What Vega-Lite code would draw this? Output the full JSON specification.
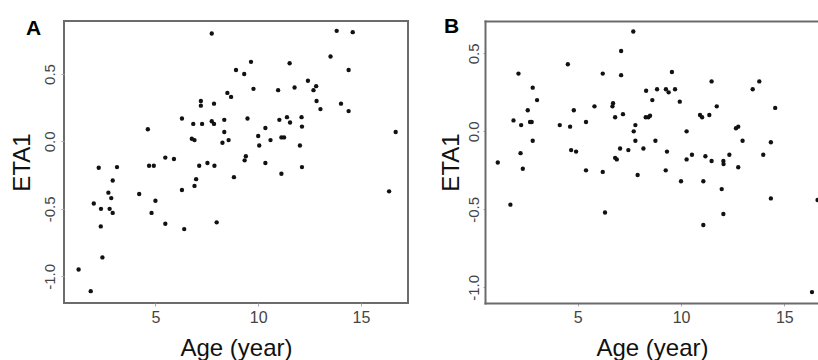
{
  "$schema": "https://vega.github.io/schema/vega-lite/v6.json",
  "padding": {"left": 9, "top": 16, "right": 0, "bottom": 0},
  "background": "white",
  "spacing": 77,
  "bounds": "flush",
  "config": {
    "font": "Liberation Sans",
    "axis": {"grid": false, "labelColor": "#444444", "titleColor": "#111111", "tickColor": "#aaaaaa", "tickWidth": 1, "titleFontWeight": "normal", "labelFont": "Liberation Sans", "titleFont": "Liberation Sans"}
  },
  "datasets": {
    "a": [
      {"age": 7.74, "eta": 0.80}, {"age": 13.82, "eta": 0.82}, {"age": 14.6, "eta": 0.81}, {"age": 13.52, "eta": 0.63},
      {"age": 9.65, "eta": 0.59}, {"age": 11.53, "eta": 0.58}, {"age": 14.40, "eta": 0.53}, {"age": 8.92, "eta": 0.53},
      {"age": 9.32, "eta": 0.50}, {"age": 12.42, "eta": 0.45}, {"age": 12.82, "eta": 0.41}, {"age": 12.69, "eta": 0.38},
      {"age": 9.77, "eta": 0.39}, {"age": 11.77, "eta": 0.40}, {"age": 10.97, "eta": 0.38}, {"age": 8.5, "eta": 0.36},
      {"age": 8.68, "eta": 0.33}, {"age": 12.84, "eta": 0.30}, {"age": 14.03, "eta": 0.28}, {"age": 7.21, "eta": 0.30},
      {"age": 7.21, "eta": 0.265}, {"age": 7.85, "eta": 0.28}, {"age": 13.03, "eta": 0.24}, {"age": 14.40, "eta": 0.225},
      {"age": 6.29, "eta": 0.17}, {"age": 9.48, "eta": 0.17}, {"age": 11.40, "eta": 0.18}, {"age": 12.11, "eta": 0.18},
      {"age": 8.35, "eta": 0.16}, {"age": 11.03, "eta": 0.16}, {"age": 11.55, "eta": 0.14}, {"age": 7.74, "eta": 0.15},
      {"age": 7.85, "eta": 0.13}, {"age": 6.84, "eta": 0.13}, {"age": 7.27, "eta": 0.13}, {"age": 12.13, "eta": 0.11},
      {"age": 4.63, "eta": 0.09}, {"age": 10.35, "eta": 0.10}, {"age": 16.69, "eta": 0.07}, {"age": 8.35, "eta": 0.07},
      {"age": 10.0, "eta": 0.04}, {"age": 11.13, "eta": 0.03}, {"age": 11.26, "eta": 0.03}, {"age": 6.77, "eta": 0.02},
      {"age": 6.9, "eta": 0.01}, {"age": 8.56, "eta": 0.01}, {"age": 10.6, "eta": 0.01}, {"age": 8.26, "eta": -0.01},
      {"age": 10.05, "eta": -0.03}, {"age": 12.03, "eta": -0.03}, {"age": 9.4, "eta": -0.11}, {"age": 9.34, "eta": -0.14},
      {"age": 5.48, "eta": -0.12}, {"age": 5.9, "eta": -0.13}, {"age": 7.53, "eta": -0.16}, {"age": 10.35, "eta": -0.16},
      {"age": 2.24, "eta": -0.195}, {"age": 3.13, "eta": -0.19}, {"age": 4.69, "eta": -0.18}, {"age": 4.92, "eta": -0.18},
      {"age": 7.13, "eta": -0.18}, {"age": 7.87, "eta": -0.18}, {"age": 12.13, "eta": -0.19}, {"age": 11.13, "eta": -0.24},
      {"age": 8.82, "eta": -0.265}, {"age": 6.98, "eta": -0.28}, {"age": 2.92, "eta": -0.29}, {"age": 6.9, "eta": -0.33},
      {"age": 6.29, "eta": -0.36}, {"age": 2.71, "eta": -0.38}, {"age": 4.21, "eta": -0.39}, {"age": 16.37, "eta": -0.37},
      {"age": 2.85, "eta": -0.42}, {"age": 2.0, "eta": -0.46}, {"age": 5.0, "eta": -0.44}, {"age": 2.35, "eta": -0.50},
      {"age": 2.77, "eta": -0.50}, {"age": 2.92, "eta": -0.53}, {"age": 4.81, "eta": -0.53}, {"age": 2.34, "eta": -0.63},
      {"age": 5.48, "eta": -0.61}, {"age": 7.98, "eta": -0.60}, {"age": 6.40, "eta": -0.65}, {"age": 2.42, "eta": -0.86},
      {"age": 1.26, "eta": -0.95}, {"age": 1.85, "eta": -1.11}
    ],
    "b": [
      {"age": 7.69, "eta": 0.64}, {"age": 7.10, "eta": 0.515}, {"age": 4.52, "eta": 0.43}, {"age": 2.13, "eta": 0.37},
      {"age": 6.21, "eta": 0.37}, {"age": 7.10, "eta": 0.36}, {"age": 9.56, "eta": 0.38}, {"age": 11.48, "eta": 0.32},
      {"age": 13.79, "eta": 0.32}, {"age": 13.47, "eta": 0.27}, {"age": 2.82, "eta": 0.28}, {"age": 3.03, "eta": 0.20},
      {"age": 8.31, "eta": 0.26}, {"age": 8.84, "eta": 0.27}, {"age": 9.27, "eta": 0.27}, {"age": 9.40, "eta": 0.25},
      {"age": 9.71, "eta": 0.27}, {"age": 8.61, "eta": 0.20}, {"age": 9.94, "eta": 0.19}, {"age": 5.81, "eta": 0.16},
      {"age": 6.71, "eta": 0.18}, {"age": 6.68, "eta": 0.16}, {"age": 11.73, "eta": 0.16}, {"age": 14.56, "eta": 0.15},
      {"age": 2.58, "eta": 0.135}, {"age": 4.81, "eta": 0.135}, {"age": 7.19, "eta": 0.11}, {"age": 6.81, "eta": 0.09},
      {"age": 10.92, "eta": 0.105}, {"age": 11.02, "eta": 0.09}, {"age": 11.37, "eta": 0.105}, {"age": 8.29, "eta": 0.09},
      {"age": 8.42, "eta": 0.09}, {"age": 8.50, "eta": 0.10}, {"age": 1.89, "eta": 0.07}, {"age": 2.26, "eta": 0.04},
      {"age": 2.69, "eta": 0.06}, {"age": 2.77, "eta": 0.06}, {"age": 4.13, "eta": 0.04}, {"age": 4.63, "eta": 0.03},
      {"age": 5.40, "eta": 0.06}, {"age": 7.79, "eta": 0.04}, {"age": 7.71, "eta": 0.0}, {"age": 10.27, "eta": 0.0},
      {"age": 12.66, "eta": 0.02}, {"age": 12.77, "eta": 0.03}, {"age": 2.82, "eta": -0.06}, {"age": 7.79, "eta": -0.06},
      {"age": 8.76, "eta": -0.06}, {"age": 12.98, "eta": -0.06}, {"age": 14.35, "eta": -0.07}, {"age": 7.05, "eta": -0.11},
      {"age": 4.68, "eta": -0.12}, {"age": 4.92, "eta": -0.13}, {"age": 7.45, "eta": -0.12}, {"age": 8.18, "eta": -0.11},
      {"age": 9.32, "eta": -0.13}, {"age": 2.23, "eta": -0.14}, {"age": 10.53, "eta": -0.15}, {"age": 11.18, "eta": -0.16},
      {"age": 13.98, "eta": -0.15}, {"age": 6.81, "eta": -0.17}, {"age": 6.89, "eta": -0.18}, {"age": 10.27, "eta": -0.18},
      {"age": 11.48, "eta": -0.19}, {"age": 12.05, "eta": -0.19}, {"age": 12.06, "eta": -0.21}, {"age": 12.34, "eta": -0.15},
      {"age": 1.13, "eta": -0.20}, {"age": 2.34, "eta": -0.24}, {"age": 5.40, "eta": -0.25}, {"age": 6.21, "eta": -0.26},
      {"age": 9.26, "eta": -0.25}, {"age": 7.90, "eta": -0.28}, {"age": 12.77, "eta": -0.23}, {"age": 10.0, "eta": -0.32},
      {"age": 11.08, "eta": -0.32}, {"age": 11.97, "eta": -0.37}, {"age": 1.74, "eta": -0.47}, {"age": 14.35, "eta": -0.43},
      {"age": 16.61, "eta": -0.44}, {"age": 6.32, "eta": -0.52}, {"age": 12.05, "eta": -0.53}, {"age": 11.08, "eta": -0.60},
      {"age": 16.34, "eta": -1.03}
    ]
  },
  "hconcat": [
    {
      "width": 344,
      "height": 282,
      "data": {"name": "a"},
      "view": {"stroke": "#6b6b6b", "strokeWidth": 2},
      "title": {"text": "A", "anchor": "start", "frame": "group", "fontSize": 21, "fontWeight": "bold", "baseline": "alphabetic", "offset": 0, "dx": -38, "dy": 35, "color": "#000000", "font": "Liberation Sans"},
      "mark": {"type": "circle", "size": 19, "color": "#111111", "opacity": 1},
      "encoding": {
        "x": {
          "field": "age", "type": "quantitative",
          "scale": {"domain": [0.55, 17.29], "nice": false, "zero": false},
          "axis": {"values": [5, 10, 15], "domain": false, "tickSize": 3, "labelPadding": 3, "labelFontSize": 16, "title": "Age (year)", "titleFontSize": 24, "titlePadding": 6, "minExtent": 27, "maxExtent": 27}
        },
        "y": {
          "field": "eta", "type": "quantitative",
          "scale": {"domain": [-1.198, 0.893], "nice": false, "zero": false},
          "axis": {"values": [-1, -0.5, 0, 0.5], "labelExpr": "replace(format(datum.value, '.1f'), '\u2212', '-')", "domain": false, "tickSize": 3, "labelPadding": 3.5, "labelFontSize": 15, "labelAngle": 270, "labelAlign": "center", "labelBaseline": "bottom", "title": "ETA1", "titleFontSize": 24, "titleAngle": 270, "titleBaseline": "bottom", "titlePadding": 10, "minExtent": 20, "maxExtent": 20}
        }
      }
    },
    {
      "width": 334,
      "height": 282,
      "data": {"name": "b"},
      "view": {"stroke": null},
      "title": {"text": "B", "anchor": "start", "frame": "group", "fontSize": 21, "fontWeight": "bold", "baseline": "alphabetic", "offset": 0, "dx": -41, "dy": 33, "color": "#000000", "font": "Liberation Sans"},
      "layer": [
        {
          "mark": {"type": "circle", "size": 19, "color": "#111111", "opacity": 1, "clip": true},
          "encoding": {
            "x": {
              "field": "age", "type": "quantitative",
              "scale": {"domain": [0.51, 16.68], "nice": false, "zero": false},
              "axis": {"values": [5, 10, 15], "domain": true, "domainColor": "#6b6b6b", "domainWidth": 2, "domainCap": "square", "tickSize": 3, "labelPadding": 3, "labelFontSize": 16, "title": "Age (year)", "titleFontSize": 24, "titlePadding": 6, "minExtent": 27, "maxExtent": 27}
            },
            "y": {
              "field": "eta", "type": "quantitative",
              "scale": {"domain": [-1.10, 0.707], "nice": false, "zero": false},
              "axis": {"values": [-1, -0.5, 0, 0.5], "labelExpr": "replace(format(datum.value, '.1f'), '\u2212', '-')", "domain": true, "domainColor": "#6b6b6b", "domainWidth": 2, "domainCap": "square", "tickSize": 2, "labelPadding": 2, "labelFontSize": 15, "labelAngle": 270, "labelAlign": "center", "labelBaseline": "bottom", "title": "ETA1", "titleFontSize": 24, "titleAngle": 270, "titleBaseline": "bottom", "titlePadding": 6, "minExtent": 16, "maxExtent": 16}
            }
          }
        },
        {
          "mark": {"type": "circle", "size": 19, "opacity": 0, "clip": true},
          "encoding": {
            "x": {
              "field": "age", "type": "quantitative",
              "axis": {"orient": "top", "domain": true, "domainColor": "#6b6b6b", "domainWidth": 2, "domainCap": "square", "ticks": false, "labels": false, "title": null, "minExtent": 0, "maxExtent": 0}
            }
          }
        }
      ],
      "resolve": {"axis": {"x": "independent"}}
    }
  ]
}
